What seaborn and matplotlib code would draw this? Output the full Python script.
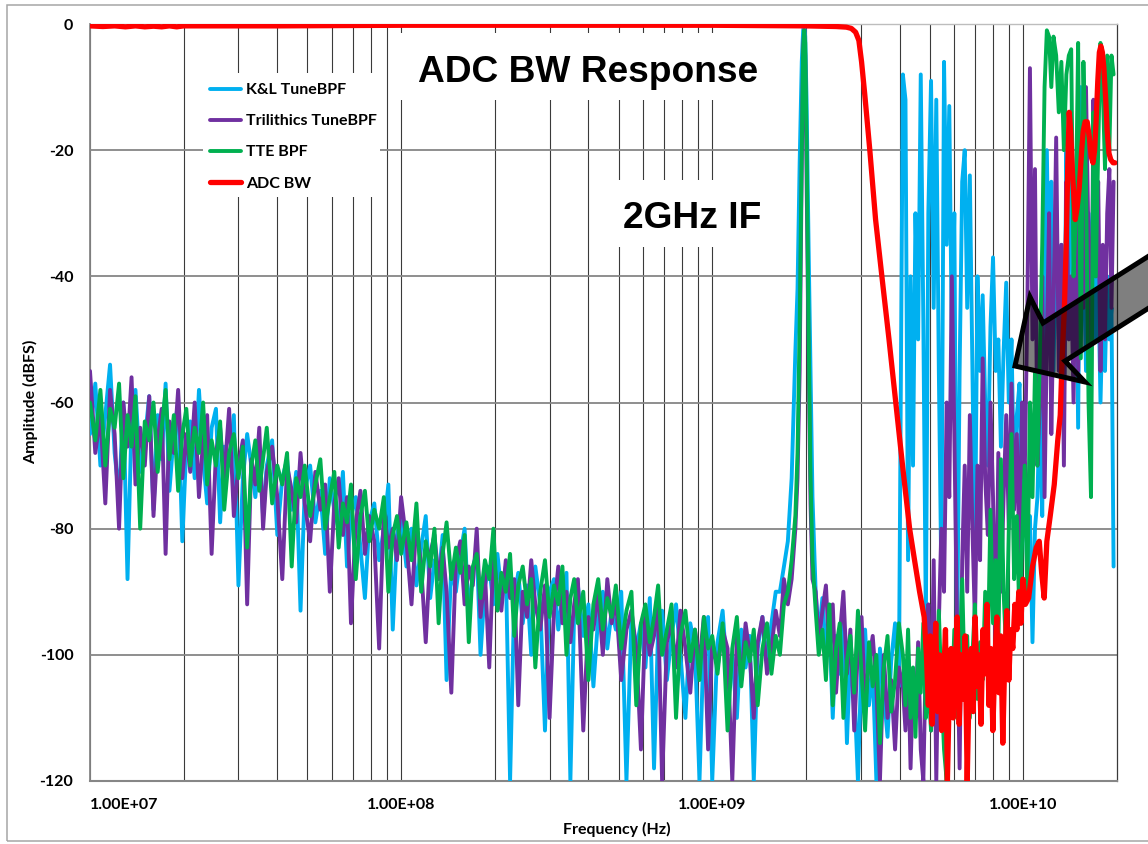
import numpy as np
import pandas as pd
import matplotlib
matplotlib.use("Agg")
import matplotlib.pyplot as plt
from matplotlib.patches import Polygon, Rectangle
from matplotlib.lines import Line2D
from matplotlib.ticker import FixedLocator, NullFormatter
import seaborn as sns

# ---------------------------------------------------------------------------
# Measured sweep (MHz) shared by the three band-pass filter captures
# ---------------------------------------------------------------------------
sweep_mhz = [
    10, 10.4, 10.8, 11.2, 11.6, 12, 12.4, 12.8, 13.2, 13.6, 14, 14.5, 15, 15.5, 16, 16.5, 17, 17.5, 18, 18.6, 19.2, 19.8, 20.4,
    21, 21.7, 22.4, 23.1, 23.8, 24.6, 25.4, 26.2, 27, 28, 29, 30, 31, 32, 33, 34, 35, 36, 37, 38.5, 40, 41.5, 43, 44.5, 46, 47.5, 49,
    51, 53, 55, 57, 59, 61, 63, 65, 67, 69, 71.5, 74, 76.5, 79, 82, 85, 88, 91, 94, 97, 100,
    104, 108, 112, 116, 120, 124, 128, 132, 136, 140, 145, 150, 155, 160, 165, 170, 175, 180, 186, 192, 198, 204,
    210, 217, 224, 231, 238, 246, 254, 262, 270, 280, 290, 300, 310, 320, 330, 340, 350, 360, 370, 385, 400, 415, 430, 445, 460, 475,
    490, 510, 530, 550, 570, 590, 610, 630, 650, 670, 690, 715, 740, 765, 790, 820, 850, 880, 910, 940, 970, 1000,
    1040, 1080, 1120, 1160, 1200, 1240, 1280, 1320, 1360, 1400, 1450, 1500, 1550, 1600, 1650, 1700,
    1750, 1800, 1850, 1880, 1910, 1940, 1960, 1975, 1990, 2010, 2040, 2070, 2100, 2150, 2200,
    2260, 2320, 2380, 2440, 2500, 2570, 2640, 2710, 2780, 2860, 2940, 3020, 3100, 3190, 3280, 3370, 3460, 3560, 3660, 3760, 3870, 3980,
    4100, 4180, 4260, 4340, 4420,
    4500, 4590, 4680, 4770, 4860,
    4950, 5050, 5150, 5250, 5350,
    5450, 5560, 5670, 5780, 5890,
    6000, 6120, 6240, 6360, 6480,
    6600, 6730, 6860, 6990, 7120,
    7260, 7400, 7540, 7690, 7840,
    7990, 8150, 8310, 8470, 8640,
    8810, 8980, 9160, 9340, 9530,
    9720, 9910, 10100, 10300, 10500,
    10700, 10900, 11100, 11300, 11500,
    11700, 11900, 12100, 12300, 12500,
    12750, 13000, 13250, 13500, 13750,
    14000, 14250, 14500, 14750, 15000,
    15300, 15600, 15900, 16200, 16500,
    16800, 17100, 17400, 17700, 18000,
    18300, 18600, 18900, 19200, 19500,
]

# K&L tunable band-pass filter (dBFS)
kl_dbfs = [
    -65, -57, -70, -62, -54, -68, -75, -60, -88, -63, -58, -71, -66, -59, -77, -62, -69, -57, -74, -65, -60, -82, -67,
    -63, -72, -58, -69, -76, -64, -61, -79, -67, -70, -62, -89, -72, -65, -70, -75, -68, -78, -70, -66, -81, -72, -69, -77, -71, -93, -74,
    -70, -79, -74, -84, -72, -77, -80, -71, -86, -78, -75, -83, -91, -79, -76, -85, -80, -73, -96, -81, -78,
    -86, -80, -89, -83, -78, -91, -85, -88, -81, -104, -86, -90, -84, -80, -94, -87, -83, -100, -89, -86, -92, -84,
    -90, -86, -120, -91, -87, -95, -89, -100, -86, -92, -112, -90, -88, -96, -91, -87, -120, -93, -89, -97, -92, -105, -94, -90, -99, -93,
    -96, -90, -120, -94, -99, -95, -102, -91, -118, -96, -93, -104, -97, -92, -100, -110, -95, -99, -120, -97, -94, -120,
    -98, -93, -104, -100, -110, -96, -102, -97, -120, -99, -94, -101, -95, -90, -90, -86,
    -82, -72, -52, -42, -22, -6, -1, 0, -2, -12, -35, -55, -75, -90, -97,
    -91, -100, -95, -110, -97, -103, -93, -114, -99, -105, -120, -100, -96, -108, -102, -120, -99, -106, -113, -101, -95, -105,
    -8, -12, -85, -40, -70,
    -30, -50, -8, -47, -95,
    -30, -9, -45, -12, -55,
    -88, -6, -35, -13, -50,
    -30, -100, -55, -25, -20,
    -45, -24, -55, -85, -40,
    -55, -43, -60, -70, -48,
    -37, -55, -50, -67, -52,
    -41, -60, -50, -73, -62,
    -57, -80, -70, -88, -78,
    -98, -80, -75, -60, -78,
    -40, -20, -45, -25, -55,
    -30, -50, -35, -60, -20,
    -40, -15, -50, -30, -64,
    -10, -35, -55, -30, -45,
    -25, -50, -40, -60, -45,
    -55, -40, -50, -45, -86,
]

# Trilithics tunable band-pass filter (dBFS)
trilithics_dbfs = [
    -55, -68, -62, -76, -58, -65, -80, -60, -67, -56, -73, -64, -70, -59, -78, -66, -61, -84, -63, -68, -58, -72, -65,
    -71, -60, -75, -66, -62, -84, -68, -64, -72, -61, -78, -70, -66, -92, -69, -73, -64, -80, -71, -67, -75, -88, -70, -74, -79, -68, -76,
    -82, -71, -77, -73, -90, -76, -72, -81, -75, -95, -79, -74, -84, -78, -82, -99, -77, -83, -80, -85, -75,
    -82, -92, -79, -86, -98, -84, -81, -88, -83, -90, -106, -85, -82, -92, -86, -89, -80, -94, -87, -102, -84, -90,
    -93, -85, -91, -88, -108, -90, -94, -85, -92, -96, -89, -110, -93, -86, -95, -90, -98, -92, -88, -112, -94, -96, -90, -100, -88, -95,
    -91, -104, -96, -93, -99, -115, -94, -100, -97, -92, -120, -98, -95, -102, -93, -99, -106, -96, -101, -94, -115, -98,
    -102, -96, -99, -120, -97, -104, -95, -100, -110, -98, -94, -103, -99, -93, -97, -88,
    -92, -88, -80, -72, -55, -22, -4, -1, -5, -24, -52, -76, -88, -90, -98,
    -93, -89, -100, -92, -106, -97, -90, -103, -96, -112, -99, -94, -108, -101, -97, -105, -120, -100, -110, -104, -115, -102,
    -105, -112, -100, -118, -104,
    -110, -98, -115, -120, -100,
    -92, -112, -85, -120, -95,
    -80, -90, -60, -75, -40,
    -65, -95, -118, -85, -70,
    -90, -62, -80, -95, -70,
    -85, -53, -72, -81, -60,
    -75, -100, -68, -90, -75,
    -62, -80, -57, -77, -65,
    -85, -60, -72, -45, -7,
    -50, -23, -70, -60, -40,
    -75, -50, -30, -65, -45,
    -18, -55, -35, -70, -25,
    -50, -40, -60, -30, -55,
    -20, -45, -10, -35, -60,
    -12, -40, -25, -55, -35,
    -50, -30, -23, -45, -25,
]

# TTE fixed band-pass filter (dBFS)
tte_dbfs = [
    -60, -66, -58, -70, -61, -64, -57, -72, -62, -67, -59, -80, -63, -66, -60, -71, -64, -58, -69, -62, -74, -65, -61,
    -70, -64, -68, -60, -73, -66, -70, -63, -77, -68, -65, -72, -67, -83, -70, -66, -74, -69, -64, -76, -70, -73, -68, -86, -72, -75, -70,
    -78, -73, -69, -80, -75, -71, -83, -76, -79, -73, -88, -78, -74, -82, -77, -80, -75, -90, -81, -78, -84,
    -79, -85, -76, -90, -82, -86, -80, -95, -84, -79, -88, -83, -87, -81, -98, -86, -84, -91, -85, -88, -80, -93,
    -87, -90, -84, -97, -89, -86, -92, -88, -102, -90, -85, -94, -89, -92, -86, -100, -91, -88, -95, -90, -104, -92, -88, -96, -91, -94,
    -89, -99, -93, -90, -108, -95, -92, -98, -94, -89, -100, -96, -92, -110, -97, -93, -101, -96, -104, -94, -99, -97,
    -103, -95, -112, -99, -94, -105, -98, -101, -96, -108, -99, -95, -103, -97, -100, -92,
    -90, -85, -78, -68, -48, -20, -4, -1, -3, -18, -48, -72, -85, -93, -100,
    -96, -104, -92, -108, -99, -95, -110, -101, -97, -106, -93, -103, -112, -98, -105, -100, -114, -102, -97, -109, -104, -95,
    -100, -108, -96, -110, -102,
    -113, -99, -106, -95, -110,
    -104, -112, -98, -107, -93,
    -105, -115, -120, -100, -108,
    -96, -110, -101, -88, -105,
    -97, -110, -100, -92, -107,
    -98, -104, -90, -100, -77,
    -95, -85, -100, -69, -90,
    -100, -80, -65, -88, -78,
    -95, -82, -70, -90, -60,
    -75, -55, -70, -52, -35,
    -10, -1, -2, -10, -2,
    -5, -14, -6, -20, -8,
    -5, -4, -40, -30, -3,
    -53, -6, -25, -60, -75,
    -14, -40, -20, -3, -10,
    -23, -5, -20, -5, -8,
]

# ADC input bandwidth sweep
adc_mhz = [
    10, 11, 12, 13, 14, 15, 16, 17, 18, 19, 20, 25, 40, 100, 300, 1000, 2000, 2500, 2700, 2800,
    2890, 2960, 3020, 3090, 3210, 3350, 3510, 3700, 3890, 4090, 4310, 4470, 4640, 4800,
    4880, 4950, 5020, 5090, 5160, 5230, 5300, 5380, 5460, 5540, 5620, 5700, 5780, 5860, 5950, 6040,
    6130, 6220, 6310, 6400, 6500, 6600, 6700, 6800, 6900, 7000, 7100, 7200, 7310, 7420, 7530, 7640,
    7750, 7860, 7980, 8100, 8220, 8340, 8460, 8590, 8720, 8850, 8980, 9110, 9250, 9390, 9530, 9670,
    9820, 9970, 10150, 10400,
    10700, 11000, 11250, 11450, 11670, 11900, 12200, 12570, 12900, 13140, 13350, 13550, 13750, 13900,
    14040, 14200, 14400, 14680, 14900, 15120, 15400, 15570, 15800, 16040, 16300, 16520, 16750, 16950,
    17150, 17350, 17550, 17750, 17950, 18150, 18400, 18600, 18850, 19100, 19430, 19700,
]
adc_dbfs = [
    -0.3, -0.4, -0.3, -0.45, -0.3, -0.45, -0.35, -0.45, -0.3, -0.45, -0.3, -0.3, -0.3, -0.2, -0.2, -0.2, -0.3, -0.4, -0.5, -0.7,
    -1.3, -2.6, -6, -11, -20, -31, -40, -50, -60, -70, -80, -85, -90, -94,
    -100, -108, -97, -111, -103, -95, -109, -100, -112, -104, -96, -120, -106, -99, -110, -102,
    -94, -111, -100, -107, -97, -120, -104, -99, -109, -94, -105, -100, -111, -96, -103, -92,
    -108, -99, -112, -101, -94, -106, -97, -114, -100, -93, -104, -96, -99, -92, -96, -90,
    -95, -88, -92, -91,
    -86, -83, -82, -87, -91, -82, -78, -73, -66, -62, -52, -45, -34, -22,
    -14, -17, -24, -31, -29, -26, -20, -17, -15.5, -15.5, -18, -21, -22, -20,
    -15, -9, -4.5, -3.5, -4.5, -7, -12, -17, -20.5, -21.5, -22, -22,
]

series_names = ["K&L TuneBPF", "Trilithics TuneBPF", "TTE BPF", "ADC BW"]
series_colors = ["#00B0F0", "#7030A0", "#00B050", "#FF0000"]
ytick_values = [0, -20, -40, -60, -80, -100, -120]
xtick_values = [1e7, 1e8, 1e9, 1e10]
xtick_labels = ["1.00E+07", "1.00E+08", "1.00E+09", "1.00E+10"]

# ---------------------------------------------------------------------------
# Tidy tables
# ---------------------------------------------------------------------------
bpf = pd.DataFrame({
    "freq_hz": np.asarray(sweep_mhz, dtype=float) * 1e6,
    series_names[0]: kl_dbfs,
    series_names[1]: trilithics_dbfs,
    series_names[2]: tte_dbfs,
}).melt(id_vars="freq_hz", var_name="series", value_name="dbfs")
adc = pd.DataFrame({
    "freq_hz": np.asarray(adc_mhz, dtype=float) * 1e6,
    "series": series_names[3],
    "dbfs": adc_dbfs,
})
data = pd.concat([bpf, adc], ignore_index=True)

# ---------------------------------------------------------------------------
# Figure
# ---------------------------------------------------------------------------
sns.set_style("white")
plt.rcParams["font.family"] = ["Lato", "DejaVu Sans"]
plt.rcParams["font.weight"] = "bold"
plt.rcParams["text.color"] = "black"
plt.rcParams["axes.labelcolor"] = "black"
plt.rcParams["xtick.color"] = "black"
plt.rcParams["ytick.color"] = "black"

W, H = 1148, 844
AX_L, AX_R, AX_T, AX_B = 90, 1117, 24, 781


def fx(px):
    return px / W


def fy(py):
    return 1 - py / H


fig = plt.figure(figsize=(W / 100, H / 100), dpi=100)
fig.patch.set_facecolor("white")
ax = fig.add_axes([fx(AX_L), fy(AX_B), (AX_R - AX_L) / W, (AX_B - AX_T) / H])

line_widths = [2.8, 2.8, 2.8, 3.8]
for i, (name, color, lw) in enumerate(zip(series_names, series_colors, line_widths)):
    sns.lineplot(
        data=data[data["series"] == name], x="freq_hz", y="dbfs",
        color=color, linewidth=lw, sort=False, estimator=None,
        legend=False, ax=ax, zorder=3 + i,
    )

ax.set_xscale("log")
ax.set_xlim(1e7, 2e10)
ax.set_ylim(-120, 0)
ax.set_yticks(ytick_values)
ax.set_yticklabels([str(v) for v in ytick_values])
ax.set_xticks(xtick_values)
ax.set_xticklabels(xtick_labels)
minor_ticks = [m * 10.0 ** e for e in range(7, 11) for m in range(2, 10) if m * 10.0 ** e < 2e10]
ax.xaxis.set_minor_locator(FixedLocator(minor_ticks))
ax.xaxis.set_minor_formatter(NullFormatter())
ax.tick_params(which="both", length=0)
ax.tick_params(axis="x", pad=12, labelsize=11.5, labelcolor="black")
ax.tick_params(axis="y", pad=12, labelsize=11.5, labelcolor="black")
for lbl in ax.get_xticklabels() + ax.get_yticklabels():
    lbl.set_fontweight("bold")
ax.get_xticklabels()[0].set_horizontalalignment("left")

ax.grid(axis="y", which="major", color="#868686", linewidth=1.3)
ax.grid(axis="x", which="both", color="#3a3a3a", linewidth=0.8)
ax.set_axisbelow(True)
ax.set_xlabel("")
ax.set_ylabel("")

ax.spines["left"].set_color("#868686")
ax.spines["left"].set_linewidth(1.3)
ax.spines["bottom"].set_color("#868686")
ax.spines["bottom"].set_linewidth(1.5)
ax.spines["top"].set_color("#bdbdbd")
ax.spines["top"].set_linewidth(1.0)
ax.spines["right"].set_color("#3a3a3a")
ax.spines["right"].set_linewidth(0.9)

fig.text(fx(617), fy(829), "Frequency (Hz)", ha="center", va="center",
         fontsize=11.5, fontweight="bold", color="black")
fig.text(fx(31), fy(402), "Amplitude (dBFS)", ha="center", va="center",
         rotation=90, fontsize=11.5, fontweight="bold", color="black")

# white panels behind the legend and the two callouts
for (x0, y0, x1, y1) in [(203, 73, 380, 197), (395, 33, 780, 100), (612, 180, 775, 247)]:
    fig.add_artist(Rectangle((fx(x0), fy(y1)), (x1 - x0) / W, (y1 - y0) / H,
                             transform=fig.transFigure, facecolor="white",
                             edgecolor="none", zorder=2))

fig.text(fx(418), fy(82), "ADC BW Response", ha="left", va="baseline",
         fontsize=26.7, fontweight="bold", family="Liberation Sans",
         color="black", zorder=3)
fig.text(fx(623), fy(228), "2GHz IF", ha="left", va="baseline",
         fontsize=26.7, fontweight="bold", family="Liberation Sans",
         color="black", zorder=3)

handles = [Line2D([], [], color=c, linewidth=lw, solid_capstyle="round")
           for c, lw in zip(series_colors, line_widths)]
leg = fig.legend(handles, series_names, loc="upper left",
                 bbox_to_anchor=(fx(210), fy(83)), bbox_transform=fig.transFigure,
                 frameon=False, borderpad=0, borderaxespad=0,
                 handlelength=1.95, handletextpad=0.3, labelspacing=1.06,
                 prop={"family": "Lato", "weight": "bold", "size": 11.5})
for t in leg.get_texts():
    t.set_color("black")

# pointer arrow at the right edge
arrow_px = [(1015, 366), (1030, 297), (1043, 323), (1220, 211),
            (1220, 263), (1065, 361), (1085, 382)]
fig.add_artist(Polygon([(fx(x), fy(y)) for x, y in arrow_px], closed=True,
                       transform=fig.transFigure, facecolor=(0, 0, 0, 0.5),
                       edgecolor="black", linewidth=3.6, joinstyle="miter",
                       zorder=6, clip_on=False))

# chart frame
fig.add_artist(Rectangle((fx(7), fy(841)), (1200 - 7) / W, (841 - 5) / H,
                         transform=fig.transFigure, facecolor="none",
                         edgecolor="#a6a6a6", linewidth=1.1, zorder=1))

fig.savefig("out.png", dpi=100)
